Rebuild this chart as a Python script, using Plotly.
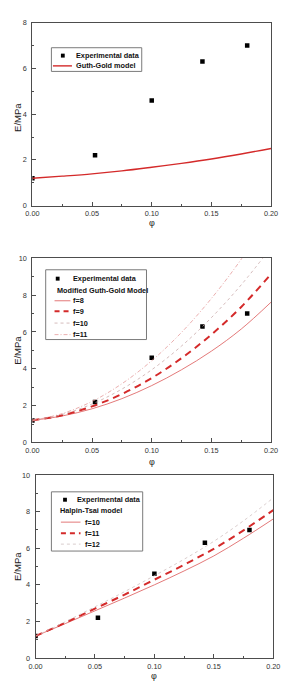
import plotly.graph_objects as go

# ---------------- data ----------------
phi_exp = [0.0, 0.0525, 0.10, 0.1425, 0.18]
E_exp = [1.2, 2.2, 4.6, 6.3, 7.0]

phi_model = [0.0, 0.025, 0.05, 0.075, 0.10, 0.125, 0.15, 0.175, 0.20]
guth_gold = [1.2, 1.29, 1.39, 1.52, 1.68, 1.85, 2.04, 2.26, 2.5]

mgg_f8 = [1.2, 1.44, 1.83, 2.38, 3.09, 3.95, 4.96, 6.16, 7.62]
mgg_f9 = [1.2, 1.48, 1.96, 2.63, 3.50, 4.58, 5.86, 7.36, 9.15]
mgg_f10 = [1.2, 1.52, 2.09, 2.90, 3.95, 5.24, 6.78, 8.56, 10.58]
mgg_f11 = [1.2, 1.57, 2.23, 3.19, 4.44, 5.98, 7.82, 9.95, 12.4]

ht_f10 = [1.2, 1.88, 2.58, 3.28, 4.00, 4.76, 5.58, 6.55, 7.60]
ht_f11 = [1.2, 1.93, 2.70, 3.47, 4.28, 5.10, 5.97, 6.98, 8.08]
ht_f12 = [1.2, 1.98, 2.80, 3.63, 4.50, 5.40, 6.38, 7.50, 8.75]

x_ticks = [0.0, 0.05, 0.10, 0.15, 0.20]
x_ticklabels = ["0.00", "0.05", "0.10", "0.15", "0.20"]

W, H = 285, 688
FONT = "Liberation Sans, Arial, sans-serif"
AX = "#4d4d4d"

def px(x):
    return x / W

def py(y):
    return 1 - y / H

fig = go.Figure()

RED = "#d42a2a"
s_exp = dict(mode="markers", marker=dict(symbol="square", size=4.5, color="black"))

def add_line(x, y, ax, color, width, dash="solid"):
    fig.add_trace(go.Scatter(x=x, y=y, mode="lines", xaxis="x" + ax, yaxis="y" + ax,
                             line=dict(color=color, width=width, dash=dash, shape="spline"),
                             showlegend=False, hoverinfo="skip"))

# panel 1
fig.add_trace(go.Scatter(x=phi_exp, y=E_exp, xaxis="x", yaxis="y", showlegend=False, **s_exp))
add_line(phi_model, guth_gold, "", RED, 1.4)

# panel 2
fig.add_trace(go.Scatter(x=phi_exp, y=E_exp, xaxis="x2", yaxis="y2", showlegend=False, **s_exp))
add_line(phi_model, mgg_f8, "2", "#e06a6a", 0.9)
add_line(phi_model, mgg_f9, "2", RED, 2.0, "7px,5px")
add_line(phi_model, mgg_f10, "2", "#c9a9a9", 0.8, "dot")
add_line(phi_model, mgg_f11, "2", "#e59a9a", 0.8, "4px,2px,1px,2px")

# panel 3
fig.add_trace(go.Scatter(x=phi_exp, y=E_exp, xaxis="x3", yaxis="y3", showlegend=False, **s_exp))
add_line(phi_model, ht_f10, "3", "#e06a6a", 0.9)
add_line(phi_model, ht_f11, "3", RED, 2.0, "7px,5px")
add_line(phi_model, ht_f12, "3", "#cfc0c0", 0.8, "dot")

def xaxis(dom, anchor):
    return dict(domain=dom, anchor=anchor, range=[0, 0.2], tickvals=x_ticks, ticktext=x_ticklabels,
                showline=True, mirror=True, linecolor=AX, linewidth=1,
                ticks="inside", ticklen=4, tickcolor=AX, tickwidth=1,
                minor=dict(ticks="inside", ticklen=2, tickvals=[0.025, 0.075, 0.125, 0.175], tickcolor=AX),
                showgrid=False, zeroline=False, ticklabelstandoff=1,
                tickfont=dict(family=FONT, size=7.3, color="#333333"))

def yaxis(dom, anchor, top):
    return dict(domain=dom, anchor=anchor, range=[0, top], dtick=2,
                showline=True, mirror=True, linecolor=AX, linewidth=1,
                ticks="inside", ticklen=4, tickcolor=AX, tickwidth=1,
                minor=dict(ticks="inside", ticklen=2, dtick=1, tickcolor=AX),
                showgrid=False, zeroline=False, ticklabelstandoff=3,
                tickfont=dict(family=FONT, size=7.3, color="#333333"))

d1 = [py(204.3), py(19)]
d2 = [py(444.3), py(257.7)]
d3 = [py(662.7), py(477.3)]

fig.update_layout(
    width=W, height=H, margin=dict(l=0, r=0, t=0, b=0),
    paper_bgcolor="white", plot_bgcolor="white", showlegend=False,
    xaxis=xaxis([px(26.7), px(277.7)], "y"),
    yaxis=yaxis(d1, "x", 8),
    xaxis2=xaxis([px(26.7), px(277.7)], "y2"),
    yaxis2=yaxis(d2, "x2", 10),
    xaxis3=xaxis([px(30), px(280)], "y3"),
    yaxis3=yaxis(d3, "x3", 10),
)

annotations = []
shapes = []

def text(x, y, s, size=7.3, bold=True, anchor="left", angle=0, color="#111111"):
    annotations.append(dict(x=px(x), y=py(y), xref="paper", yref="paper", text=(f"<b>{s}</b>" if bold else s),
                            showarrow=False, xanchor=anchor, yanchor="middle", textangle=angle,
                            font=dict(family=FONT, size=size, color=color)))

for yc in [115, 351, 570]:
    text(11, yc, "E/MPa", size=9.5, bold=False, anchor="center", angle=-90, color="#222222")
text(152, 222, "φ", size=9, bold=False, anchor="center", color="#222222")
text(152, 464, "φ", size=9, bold=False, anchor="center", color="#222222")
text(155, 680.5, "φ", size=9, bold=False, anchor="center", color="#222222")

def box(x0, y0, x1, y1):
    shapes.append(dict(type="rect", xref="paper", yref="paper", x0=px(x0), x1=px(x1), y0=py(y1), y1=py(y0),
                       line=dict(color="#7a7a7a", width=1), fillcolor="rgba(0,0,0,0)"))

def sq(xc, yc, s=4):
    shapes.append(dict(type="rect", xref="paper", yref="paper", x0=px(xc - s / 2), x1=px(xc + s / 2),
                       y0=py(yc + s / 2), y1=py(yc - s / 2), line=dict(width=0), fillcolor="black"))

def seg(x0, x1, yc, color, width, dash="solid"):
    shapes.append(dict(type="line", xref="paper", yref="paper", x0=px(x0), x1=px(x1), y0=py(yc), y1=py(yc),
                       line=dict(color=color, width=width, dash=dash)))

# legend 1
box(46.7, 44.3, 141.7, 68.3)
sq(58.7, 52.3)
text(70, 52.3, "Experimental data")
seg(48.3, 68.3, 62.7, RED, 1.4)
text(70, 62.7, "Guth-Gold model")

# legend 2
box(40.7, 269.3, 146.7, 340)
sq(53.3, 278.3)
text(67, 278.3, "Experimental data")
text(50.5, 290, "Modified Guth-Gold Model")
seg(50, 66.7, 300.7, "#e06a6a", 0.9)
text(67.5, 300.7, "f=8")
seg(50, 66.7, 311.3, RED, 2.0, "5px,4px")
text(67.5, 311.3, "f=9")
seg(50, 66.7, 323.3, "#c9a9a9", 0.8, "dot")
text(67.5, 323.3, "f=10")
seg(50, 66.7, 335, "#e59a9a", 0.8, "4px,2px,1px,2px")
text(67.5, 335, "f=11")

# legend 3
box(46.7, 494.3, 142.7, 554.3)
sq(61, 502.3)
text(71.5, 502.3, "Experimental data")
text(54, 513.3, "Halpin-Tsai model")
seg(56.7, 77.3, 525, "#e06a6a", 0.9)
text(79.5, 525, "f=10")
seg(56.7, 77.3, 536.3, RED, 2.0, "5px,4px")
text(79.5, 536.3, "f=11")
seg(56.7, 77.3, 547.3, "#cfc0c0", 0.8, "dot")
text(79.5, 547.3, "f=12")

fig.update_layout(annotations=annotations, shapes=shapes)
fig.write_html("out.html")
